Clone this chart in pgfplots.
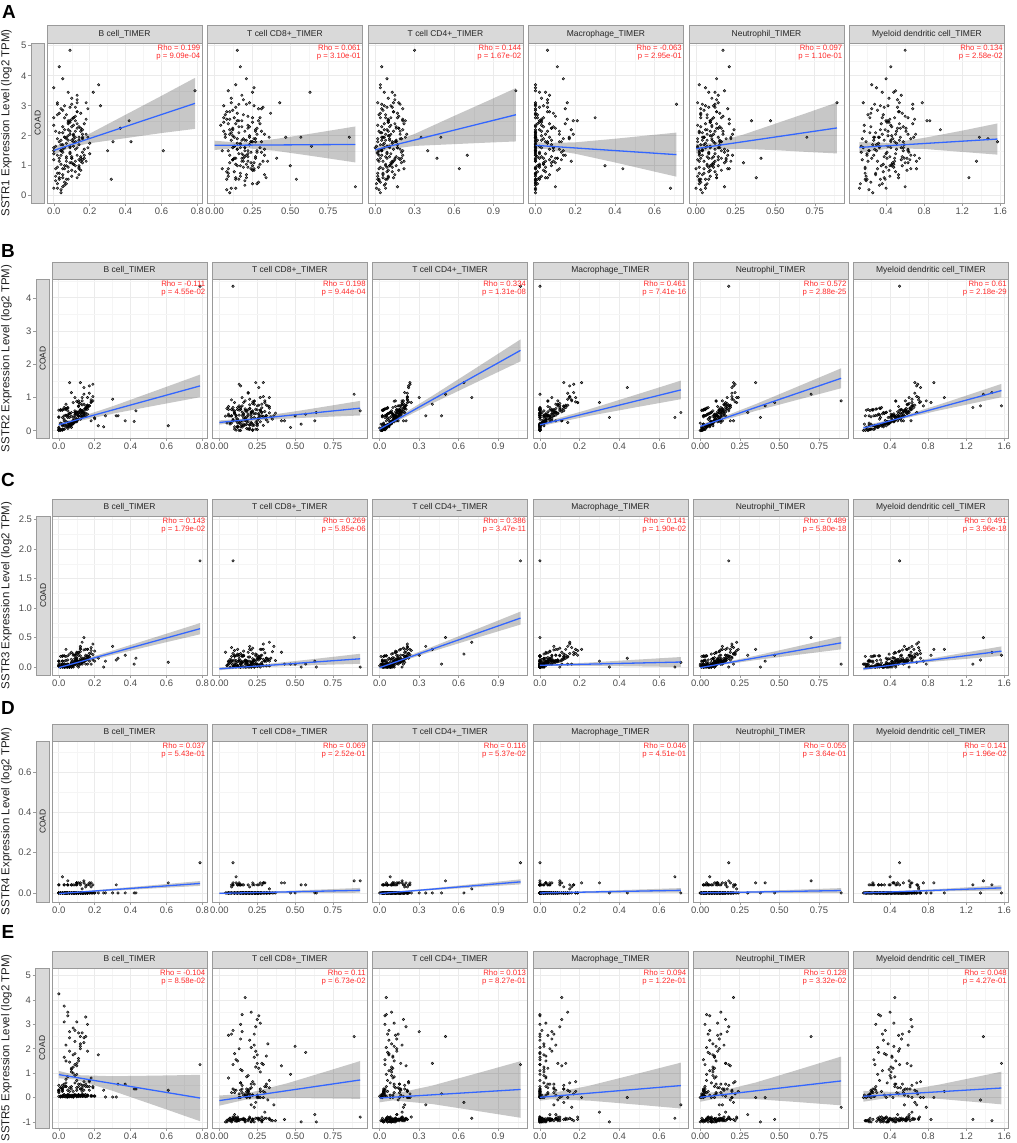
\documentclass[border=0pt]{standalone}
\usepackage{pgfplots}
\pgfplotsset{compat=1.18}
\usepackage{pgfplotstable}
\usepackage{fontspec}
\setmainfont{Liberation Sans}
\definecolor{bordc}{HTML}{9A9A9A}
\definecolor{stripc}{HTML}{D9D9D9}
\definecolor{tickc}{HTML}{4D4D4D}
\definecolor{regc}{HTML}{3366FF}
\definecolor{majg}{HTML}{EBEBEB}
\definecolor{ming}{HTML}{F5F5F5}
\definecolor{rhoc}{HTML}{FF2A2A}

\pgfplotstableread{
b c8 c4 mac neu dc s1 s2 s3 s4 s5 s5b
0.787 0.09 1.07 0.00 0.18 0.50 3.50 4.35 1.80 0.15 1.35 1.35
0.14 0.89 0.50 0.00 0.70 1.38 1.95 1.10 0.50 0.06 2.50 2.45
0.61 0.22 0.05 0.00 0.04 0.22 1.50 0.15 0.08 0.05 -0.90 0.30
0.42 0.18 0.10 0.03 0.09 0.40 2.50 0.28 0.05 0.00 0.10 0.35
0.43 0.27 0.16 0.12 0.15 0.58 1.80 0.60 0.15 0.00 0.35 0.35
0.37 0.12 0.18 0.08 0.13 0.52 2.25 0.30 0.20 0.00 -0.85 0.55
0.33 0.31 0.15 0.05 0.16 0.45 1.80 0.45 0.15 0.00 0.55 0.55
0.32 0.08 0.02 0.00 0.03 0.18 0.55 0.45 0.12 0.04 -0.95 0.02
0.30 0.20 0.21 0.14 0.20 0.63 1.50 0.95 0.35 0.00 0.00 0.02
0.25 0.14 0.04 0.00 0.02 0.25 3.70 0.12 0.00 0.00 0.30 0.30
0.22 0.25 0.07 0.02 0.08 0.36 3.45 0.15 0.15 0.00 1.75 1.75
0.26 0.06 0.12 0.04 0.11 0.42 3.00 0.45 0.10 0.00 -0.90 0.02
0.05 0.93 0.17 0.10 0.18 0.60 0.30 0.60 0.00 0.06 -0.80 0.05
0.11 0.64 0.09 0.00 0.07 0.33 1.65 0.55 0.00 0.00 -1.00 0.08
0.08 0.63 0.13 0.05 0.12 0.48 3.45 0.30 0.10 0.00 -0.70 0.10
0.16 0.57 0.06 0.00 0.05 0.28 1.95 0.50 0.05 0.04 1.85 1.90
0.03 0.54 0.03 0.00 0.02 0.20 0.55 0.20 0.00 0.04 -1.00 0.04
0.12 0.50 0.11 0.02 0.10 0.44 1.00 0.45 0.05 0.00 2.10 2.20
0.07 0.47 0.05 0.00 0.04 0.27 1.95 0.10 0.05 0.00 0.95 1.05
0.18 0.43 0.14 0.06 0.14 0.54 3.10 0.30 0.05 0.05 -0.90 0.06
0.10 0.41 0.20 0.11 0.19 0.62 1.25 0.30 0.25 0.05 1.30 1.40
0.09 0.15 0.30 0.06 0.17 0.60 4.85 1.00 0.20 0.00 2.70 2.75
0.13 0.33 0.70 0.15 0.23 0.70 1.35 1.00 0.42 0.02 -0.85 0.10
0.06 0.24 0.64 0.12 0.21 0.66 0.90 1.45 0.22 0.00 -0.20 0.40
0.15 0.19 0.47 0.04 0.10 0.49 1.25 0.45 0.05 0.00 0.15 0.45
0.04 0.28 0.40 0.09 0.16 0.58 1.50 0.80 0.30 0.00 1.40 1.50
0.12 0.36 0.35 0.07 0.14 0.55 1.95 0.45 0.35 0.00 -0.30 0.35
0.10 0.21 0.19 0.71 0.12 0.68 3.05 0.55 0.08 0.00 -0.30 0.40
0.02 0.11 0.08 0.68 0.06 0.40 0.25 0.40 0.00 0.08 -0.85 0.05
0.14 0.26 0.22 0.44 0.20 0.72 0.90 1.30 0.15 0.00 0.00 0.30
0.06 0.17 0.11 0.35 0.09 0.46 1.00 0.40 0.00 0.00 -1.00 0.03
0.11 0.30 0.17 0.30 0.16 0.63 2.60 0.85 0.10 0.05 -0.60 0.12
0.13 0.23 0.18 0.16 0.89 0.78 3.10 0.90 0.05 0.00 -0.40 0.25
0.08 0.16 0.21 0.19 0.47 0.83 2.50 0.85 0.20 0.00 -0.90 0.06
0.17 0.13 0.15 0.10 0.41 0.75 1.25 0.75 0.10 0.05 0.00 0.30
0.05 0.21 0.06 0.02 0.38 0.38 0.60 0.40 0.00 0.00 -1.00 0.02
0.12 0.29 0.23 0.21 0.35 0.86 2.50 1.45 0.30 0.05 0.00 0.35
0.09 0.10 0.13 0.08 0.30 0.60 1.10 0.55 0.20 0.00 -0.70 0.08
0.11 0.25 0.16 0.13 0.16 1.57 1.80 0.75 0.20 0.00 1.40 1.50
0.07 0.19 0.19 0.17 0.22 1.47 1.90 1.15 0.25 0.04 -0.95 0.05
0.15 0.32 0.14 0.09 0.19 1.35 1.15 0.75 0.12 0.00 -0.10 2.50
0.03 0.14 0.10 0.05 0.13 1.27 0.60 0.70 0.05 0.04 -0.90 0.04
0.16 0.27 0.21 0.18 0.24 0.97 2.20 1.00 0.30 0.00 0.25 0.45
0.00 0.12 0.02 0.00 0.01 0.15 1.20 0.10 0.02 0.00 -0.95 0.05
0.05 0.18 0.05 0.00 0.03 0.24 2.30 0.07 0.00 0.00 0.05 0.30
0.09 0.22 0.09 0.02 0.08 0.40 1.40 0.60 0.14 0.04 -0.90 0.08
0.13 0.08 0.14 0.07 0.13 0.53 2.80 0.45 0.10 0.00 2.60 2.65
0.02 0.25 0.01 0.00 0.02 0.13 0.40 0.20 0.05 0.00 0.10 0.35
0.07 0.15 0.07 0.00 0.06 0.32 1.75 0.15 0.00 0.00 1.10 1.20
0.11 0.30 0.12 0.04 0.10 0.46 1.05 0.90 0.24 0.00 -0.85 0.10
0.15 0.20 0.19 0.12 0.17 0.61 2.15 0.67 0.17 0.03 0.35 0.55
0.01 0.05 0.03 0.00 0.00 0.18 0.90 0.23 0.02 0.00 -1.00 0.02
0.06 0.13 0.08 0.01 0.07 0.36 2.60 0.23 0.00 0.00 0.00 0.25
0.10 0.27 0.11 0.03 0.11 0.44 1.30 0.27 0.15 0.05 3.05 3.10
0.19 0.17 0.17 0.09 0.14 0.56 1.60 0.90 0.12 0.00 -0.90 0.06
0.04 0.10 0.04 0.00 0.04 0.26 0.10 0.12 0.05 0.00 0.20 0.45
0.08 0.23 0.10 0.00 0.09 0.42 2.00 0.40 0.00 0.00 1.65 1.75
0.12 0.35 0.13 0.05 0.12 0.49 1.15 0.35 0.26 0.00 -0.95 0.04
0.17 0.14 0.22 0.15 0.21 0.68 2.40 1.35 0.23 0.04 0.60 0.70
0.00 0.20 0.00 0.00 0.01 0.16 1.60 0.08 0.02 0.00 0.05 0.30
0.03 0.09 0.06 0.00 0.05 0.29 0.75 0.35 0.00 0.00 -0.80 0.12
0.09 0.32 0.09 0.02 0.08 0.38 2.95 0.27 0.14 0.00 2.20 2.30
0.14 0.11 0.16 0.08 0.15 0.54 1.85 0.47 0.11 0.00 0.30 0.50
0.05 0.28 0.02 0.00 0.02 0.14 1.45 0.45 0.05 0.00 -0.95 0.03
0.07 0.16 0.08 0.01 0.06 0.34 0.55 0.20 0.00 0.04 0.10 0.35
0.11 0.04 0.12 0.03 0.10 0.45 2.35 0.44 0.25 0.00 -1.00 0.07
0.16 0.24 0.20 0.10 0.18 0.63 1.10 0.65 0.19 0.00 2.90 3.00
0.02 0.19 0.03 0.00 0.03 0.21 2.70 0.63 0.02 0.00 0.25 0.40
0.06 0.07 0.07 0.00 0.05 0.33 1.95 0.20 0.00 0.00 -0.85 0.10
0.10 0.26 0.10 0.04 0.09 0.43 0.85 0.48 0.16 0.00 1.20 1.30
0.13 0.19 0.15 0.06 0.13 0.52 3.20 0.50 0.10 0.00 -0.90 0.05
0.00 0.14 0.01 0.00 0.00 0.12 0.25 0.01 0.05 0.00 0.00 0.20
0.04 0.21 0.05 0.00 0.04 0.27 1.35 0.47 0.00 0.00 2.05 2.15
0.08 0.12 0.09 0.02 0.07 0.39 2.20 0.24 0.22 0.04 -0.95 0.09
0.12 0.33 0.14 0.07 0.12 0.51 1.55 0.54 0.10 0.00 0.40 0.55
0.18 0.10 0.24 0.19 0.23 0.71 2.05 0.85 0.28 0.00 -0.80 0.08
0.01 0.17 0.02 0.00 0.01 0.19 0.65 0.61 0.00 0.00 0.15 0.40
0.05 0.23 0.06 0.00 0.05 0.30 1.70 0.17 0.12 0.00 -1.00 0.03
0.09 0.06 0.10 0.03 0.09 0.41 2.45 0.50 0.05 0.00 0.80 0.90
0.14 0.29 0.13 0.05 0.11 0.48 0.95 0.43 0.13 0.05 -0.90 0.11
0.10 0.18 0.18 0.11 0.16 0.59 1.25 0.57 0.11 0.00 0.05 0.30
0.03 0.11 0.04 0.00 0.02 0.23 2.10 0.45 0.19 0.00 1.55 1.65
0.07 0.25 0.08 0.01 0.07 0.35 1.00 0.22 0.04 0.00 -0.85 0.06
0.11 0.15 0.11 0.04 0.10 0.47 1.90 0.46 0.08 0.00 0.20 0.45
0.15 0.37 0.17 0.09 0.15 0.57 2.75 0.53 0.11 0.00 -0.95 0.04
0.00 0.09 0.03 0.00 0.02 0.22 1.50 0.62 0.10 0.04 0.35 0.50
0.06 0.20 0.07 0.00 0.06 0.33 0.35 0.18 0.02 0.00 2.35 2.45
0.09 0.13 0.11 0.02 0.09 0.42 1.65 0.47 0.10 0.00 -0.90 0.10
0.13 0.22 0.16 0.08 0.14 0.55 2.25 0.57 0.08 0.00 0.10 0.35
0.20 0.16 0.12 0.05 0.12 0.50 1.40 0.39 0.27 0.00 -0.85 0.07
0.04 0.31 0.05 0.00 0.03 0.25 2.90 0.46 0.02 0.00 0.45 0.60
0.08 0.08 0.09 0.01 0.08 0.37 0.80 0.23 0.06 0.00 -1.00 0.02
0.12 0.24 0.13 0.06 0.11 0.49 1.80 0.52 0.06 0.00 1.90 2.00
0.16 0.12 0.19 0.13 0.19 0.65 1.20 0.70 0.30 0.00 -0.90 0.09
0.02 0.27 0.02 0.00 0.01 0.15 1.90 0.62 0.00 0.00 0.00 0.25
0.07 0.18 0.06 0.00 0.05 0.31 1.15 0.19 0.07 0.00 0.25 0.45
0.10 0.10 0.10 0.03 0.10 0.44 2.55 0.51 0.03 0.00 -0.95 0.05
0.14 0.21 0.15 0.07 0.13 0.53 0.70 0.53 0.29 0.00 0.55 0.65
0.05 0.15 0.05 0.00 0.04 0.28 1.55 0.11 0.02 0.04 3.40 3.50
0.09 0.28 0.08 0.00 0.07 0.36 2.05 0.56 0.05 0.00 -0.80 0.12
0.03 0.17 0.05 0.11 0.21 0.45 4.30 0.30 0.05 0.00 4.10 3.75
0.05 0.21 0.09 0.14 0.13 0.40 3.90 0.25 0.05 0.00 3.50 3.35
0.00 0.26 0.04 0.00 0.06 0.30 3.60 0.40 0.02 0.00 3.35 4.25
0.01 0.06 0.03 0.00 0.02 0.17 2.15 0.64 0.05 0.00 -0.92 0.06
0.04 0.14 0.08 0.02 0.07 0.37 1.05 0.28 0.00 0.00 0.60 0.75
0.12 0.22 0.18 0.10 0.17 0.60 2.65 0.82 0.32 0.00 -0.88 0.09
0.06 0.29 0.04 0.00 0.03 0.24 0.45 0.16 0.02 0.00 1.35 1.45
0.10 0.11 0.10 0.03 0.10 0.43 3.25 0.30 0.08 0.05 -0.97 0.03
0.17 0.19 0.21 0.14 0.20 0.66 1.35 1.13 0.17 0.00 0.30 0.45
0.03 0.24 0.02 0.00 0.01 0.19 1.80 0.05 0.10 0.00 -0.85 0.11
0.08 0.09 0.07 0.01 0.06 0.35 2.40 0.31 0.02 0.00 2.75 2.85
0.13 0.34 0.14 0.06 0.13 0.53 0.60 0.42 0.15 0.00 -0.93 0.05
0.19 0.13 0.23 0.17 0.22 0.69 1.95 1.40 0.21 0.04 0.15 0.40
0.02 0.16 0.05 0.00 0.04 0.28 3.05 0.15 0.19 0.00 -0.90 0.08
0.07 0.27 0.09 0.02 0.08 0.41 1.25 0.44 0.05 0.00 1.05 1.15
0.11 0.07 0.12 0.05 0.11 0.50 2.05 0.44 0.09 0.00 -0.95 0.04
0.15 0.25 0.18 0.11 0.16 0.62 0.85 0.63 0.13 0.00 3.20 3.30
0.00 0.18 0.02 0.00 0.02 0.20 1.40 0.42 0.10 0.00 0.00 0.25
0.05 0.12 0.06 0.00 0.05 0.31 2.85 0.14 0.02 0.04 -0.80 0.13
0.09 0.30 0.11 0.03 0.09 0.45 1.60 0.41 0.10 0.00 0.45 0.60
0.14 0.16 0.16 0.09 0.15 0.58 2.30 0.52 0.09 0.00 -0.90 0.07
0.04 0.08 0.03 0.00 0.03 0.22 0.20 0.64 0.18 0.00 0.20 0.45
0.08 0.21 0.08 0.01 0.07 0.38 1.85 0.23 0.04 0.00 -0.98 0.02
0.12 0.14 0.13 0.06 0.12 0.52 2.95 0.64 0.11 0.00 2.40 2.50
0.16 0.31 0.20 0.13 0.18 0.64 1.45 0.77 0.15 0.00 -0.85 0.10
0.02 0.22 0.04 0.00 0.02 0.18 0.95 0.03 0.10 0.00 0.10 0.35
0.06 0.10 0.07 0.00 0.06 0.34 2.20 0.53 0.02 0.00 1.80 1.90
0.10 0.26 0.12 0.04 0.11 0.47 1.10 0.36 0.12 0.04 -0.92 0.06
0.13 0.18 0.15 0.07 0.14 0.56 3.35 0.61 0.07 0.00 0.35 0.50
0.01 0.13 0.01 0.00 0.01 0.14 1.65 0.01 0.18 0.00 -0.95 0.04
0.05 0.33 0.06 0.00 0.04 0.29 0.70 0.68 0.02 0.00 0.70 0.85
0.09 0.15 0.10 0.02 0.09 0.42 2.50 0.29 0.07 0.00 -0.88 0.09
0.14 0.23 0.17 0.08 0.15 0.59 1.70 0.80 0.11 0.00 2.15 2.25
0.18 0.08 0.21 0.16 0.21 0.70 2.55 0.93 0.33 0.03 -0.90 0.06
0.03 0.19 0.03 0.00 0.02 0.21 1.15 0.05 0.00 0.00 0.25 0.45
0.07 0.28 0.08 0.01 0.07 0.36 0.40 0.55 0.08 0.00 -1.00 0.03
0.11 0.12 0.11 0.03 0.10 0.46 2.00 0.35 0.03 0.00 1.50 1.60
0.15 0.20 0.16 0.08 0.14 0.57 1.30 0.67 0.30 0.00 -0.85 0.12
0.00 0.25 0.04 0.00 0.03 0.23 2.60 0.04 0.01 0.04 0.05 0.30
0.04 0.05 0.05 0.00 0.04 0.30 1.50 0.67 0.03 0.00 -0.93 0.05
0.08 0.19 0.09 0.02 0.08 0.40 0.95 0.27 0.02 0.00 0.90 1.00
0.12 0.27 0.14 0.06 0.12 0.51 2.15 0.63 0.19 0.00 -0.90 0.08
0.17 0.15 0.19 0.12 0.18 0.63 1.55 0.75 0.18 0.00 0.50 0.65
0.02 0.11 0.02 0.00 0.01 0.16 3.10 0.02 0.05 0.00 -0.96 0.03
0.06 0.23 0.06 0.00 0.05 0.32 1.95 0.51 0.00 0.00 2.60 2.70
0.10 0.09 0.10 0.03 0.09 0.44 0.65 0.30 0.23 0.05 -0.87 0.10
0.13 0.30 0.15 0.07 0.13 0.54 2.40 0.58 0.11 0.00 0.20 0.40
0.20 0.17 0.13 0.06 0.12 0.51 1.75 0.36 0.10 0.00 -0.92 0.05
0.03 0.14 0.04 0.00 0.03 0.25 1.25 0.65 0.00 0.00 3.00 3.10
0.07 0.07 0.08 0.01 0.07 0.37 2.70 0.24 0.13 0.00 -0.85 0.09
0.11 0.21 0.12 0.04 0.11 0.48 1.05 0.57 0.07 0.00 0.40 0.55
0.15 0.28 0.18 0.10 0.16 0.61 2.25 0.69 0.20 0.04 -0.95 0.04
0.01 0.20 0.03 0.00 0.02 0.19 0.50 0.04 0.00 0.00 0.15 0.40
0.05 0.16 0.05 0.00 0.04 0.29 2.10 0.48 0.19 0.00 -0.90 0.07
0.09 0.24 0.09 0.02 0.08 0.41 1.45 0.26 0.05 0.00 1.25 1.35
0.13 0.10 0.14 0.06 0.13 0.54 2.80 0.60 0.12 0.00 -0.88 0.11
0.18 0.22 0.22 0.18 0.22 0.72 1.15 0.87 0.23 0.00 0.65 0.80
0.04 0.17 0.04 0.00 0.03 0.26 1.70 0.66 0.11 0.00 -0.97 0.02
0.08 0.25 0.10 0.02 0.09 0.43 2.45 0.30 0.05 0.00 0.00 0.25
0.12 0.13 0.13 0.05 0.12 0.50 0.80 0.62 0.14 0.04 2.00 2.10
0.16 0.33 0.19 0.12 0.17 0.63 2.05 0.73 0.13 0.00 -0.90 0.06
0.02 0.10 0.03 0.00 0.02 0.20 1.35 0.05 0.18 0.00 0.30 0.50
0.06 0.26 0.07 0.00 0.06 0.34 3.00 0.52 0.03 0.00 -0.85 0.08
0.10 0.18 0.11 0.03 0.10 0.45 1.85 0.33 0.08 0.00 0.85 0.95
0.14 0.12 0.15 0.07 0.14 0.56 1.20 0.64 0.09 0.00 -0.95 0.05
0.00 0.22 0.02 0.00 0.01 0.17 2.35 0.01 0.10 0.00 0.10 0.30
0.05 0.09 0.06 0.00 0.05 0.31 0.90 0.70 0.02 0.04 -0.90 0.09
0.09 0.31 0.10 0.03 0.09 0.42 2.15 0.33 0.10 0.00 1.70 1.80
0.13 0.20 0.17 0.09 0.15 0.58 1.60 0.78 0.10 0.00 -0.80 0.12
0.03 0.15 0.04 0.00 0.03 0.24 2.75 0.15 0.19 0.00 0.35 0.55
0.07 0.22 0.08 0.01 0.07 0.38 1.30 0.20 0.04 0.00 -0.92 0.04
0.11 0.06 0.12 0.04 0.11 0.49 2.60 0.73 0.09 0.00 2.55 2.65
0.16 0.26 0.20 0.14 0.19 0.66 1.90 0.77 0.18 0.00 -0.88 0.07
0.02 0.17 0.02 0.00 0.02 0.18 0.75 0.18 0.10 0.00 0.05 0.30
0.06 0.12 0.07 0.00 0.06 0.33 1.60 0.12 0.02 0.00 -0.95 0.06
0.10 0.23 0.11 0.04 0.10 0.46 2.30 0.89 0.11 0.04 0.55 0.70
0.14 0.15 0.16 0.08 0.14 0.57 1.00 0.56 0.09 0.00 -0.90 0.10
0.19 0.29 0.21 0.15 0.20 0.68 2.90 1.03 0.39 0.00 0.25 0.45
0.04 0.20 0.05 0.00 0.04 0.27 1.85 0.17 0.02 0.00 -0.85 0.08
0.08 0.14 0.09 0.02 0.08 0.39 0.55 0.21 0.06 0.00 1.15 1.25
}\data

\pgfplotsset{
  panel/.style={scale only axis, anchor=north west, height=\rowh, width=\pw,
    axis line style={bordc,line width=0.7bp},
    grid=both, major grid style={majg,line width=0.8bp}, minor grid style={ming,line width=0.45bp},
    tick align=outside, tick pos=left, major tick length=2.8bp, minor tick length=0pt,
    every tick/.style={bordc,line width=0.6bp},
    ytick style={draw=none}, yticklabels={,,},
    xticklabel style={font=\fontsize{9.5}{9.5}\selectfont, text=tickc, inner sep=1.5bp},
    clip mode=individual, scaled ticks=false,
    /pgf/number format/assume math mode=true},
  colB/.style={xmin=-0.038,xmax=0.826,xtick={0,0.2,0.4,0.6,0.8},xticklabels={0.0,0.2,0.4,0.6,0.8},minor xtick={0.1,0.3,0.5,0.7}},
  colC8/.style={xmin=-0.047,xmax=0.977,xtick={0,0.25,0.5,0.75},xticklabels={0.00,0.25,0.50,0.75},minor xtick={0.125,0.375,0.625,0.875}},
  colC4/.style={xmin=-0.054,xmax=1.124,xtick={0,0.3,0.6,0.9},xticklabels={0.0,0.3,0.6,0.9},minor xtick={0.15,0.45,0.75,1.05}},
  colMac/.style={xmin=-0.0355,xmax=0.7455,xtick={0,0.2,0.4,0.6},xticklabels={0.0,0.2,0.4,0.6},minor xtick={0.1,0.3,0.5,0.7}},
  colNeu/.style={xmin=-0.0445,xmax=0.9345,xtick={0,0.25,0.5,0.75},xticklabels={0.00,0.25,0.50,0.75},minor xtick={0.125,0.375,0.625,0.875}},
  colDC/.style={xmin=0.016,xmax=1.644,xtick={0.4,0.8,1.2,1.6},xticklabels={0.4,0.8,1.2,1.6},minor xtick={0.2,0.6,1.0,1.4}},
  rowA/.style={ymin=-0.2425,ymax=5.0925,ytick={0,1,2,3,4,5},minor ytick={0.5,1.5,2.5,3.5,4.5}},
  rowB/.style={ymin=-0.2175,ymax=4.5675,ytick={0,1,2,3,4},minor ytick={0.5,1.5,2.5,3.5,4.5}},
  rowC/.style={ymin=-0.135,ymax=2.56,ytick={0,0.5,1,1.5,2,2.5},minor ytick={0.25,0.75,1.25,1.75,2.25}},
  rowD/.style={ymin=-0.045,ymax=0.754,ytick={0,0.2,0.4,0.6},minor ytick={0.1,0.3,0.5,0.7}},
  rowE/.style={ymin=-1.25,ymax=5.31,ytick={-1,0,1,2,3,4,5},minor ytick={-0.5,0.5,1.5,2.5,3.5,4.5}},
}

% #1 left, #2 column style, #3 x column, #4 y column, #5 band polygon, #6 line, #7 title, #8 rho, #9 p
\newcommand{\panel}[9]{%
\begin{axis}[panel, currow, #2, at={(#1bp,\rowtop)}]
\addplot[only marks, mark=*, mark size=1.3bp, mark options={draw=none, fill=black, fill opacity=0.5}] table[x=#3,y=#4]{\data};
\addplot[draw=none, fill=black, fill opacity=0.22] coordinates {#5};
\addplot[regc, line width=1.3bp] coordinates {#6};
\draw[bordc, fill=stripc, line width=0.7bp] (rel axis cs:0,1) rectangle ([yshift=\striph]rel axis cs:1,1);
\node[font=\fontsize{8.5}{8.5}\selectfont, text=black!85] at ([yshift=0.5*\striph]rel axis cs:0.5,1) {#7};
\node[anchor=north east, align=right, font=\fontsize{7.8}{8}\selectfont, text=rhoc, inner sep=0pt] at ([xshift=-1.5bp,yshift=-1.8bp]rel axis cs:1,1) {Rho = #8\\p = #9};
\end{axis}}

% COAD strip with the y ticks of the row
\newcommand{\coad}[2]{%
\begin{axis}[scale only axis, anchor=north west, at={(#1bp,\rowtop)}, width=13.5bp, height=\rowh, currow,
  xmin=0, xmax=1, xtick=\empty, tick pos=left, tick align=outside, major tick length=2.8bp, minor tick length=0pt,
  every tick/.style={bordc,line width=0.6bp}, axis line style={bordc,line width=0.7bp},
  axis background/.style={fill=stripc}, scaled ticks=false,
  yticklabel style={font=\fontsize{9.5}{9.5}\selectfont, text=tickc, inner sep=1.5bp},
  /pgf/number format/assume math mode=true, #2]
\node[rotate=90, font=\fontsize{8.5}{8.5}\selectfont, text=black!85] at (rel axis cs:0.5,0.5) {COAD};
\end{axis}}

\def\pw{155bp}

\begin{document}
\begin{tikzpicture}
\path[use as bounding box] (0,0) rectangle (1017bp,-1143bp);

% ---------------- Row A : SSTR1
\def\rowtop{-43bp}\def\rowh{160bp}\def\striph{18bp}
\pgfplotsset{currow/.style={rowA}}
\node[font=\fontsize{19}{19}\selectfont\bfseries] at (9bp,-12bp) {A};
\node[rotate=90, font=\fontsize{11.5}{11.5}\selectfont, text=black!88] at (6.5bp,-123bp) {SSTR1 Expression Level (log2 TPM)};
\coad{31}{}
\panel{47}{colB}{b}{s1}{(0,1.65) (0.1,1.80) (0.2,2.07) (0.4,2.70) (0.6,3.33) (0.787,3.93) (0.787,2.23) (0.6,2.09) (0.4,1.92) (0.2,1.75) (0.1,1.62) (0,1.37)}{(0,1.51) (0.787,3.08)}{B cell\_TIMER}{0.199}{9.09e-04}
\panel{207.5}{colC8}{c8}{s1}{(0,1.835) (0.17,1.765) (0.4,1.89) (0.65,2.08) (0.93,2.31) (0.93,1.11) (0.65,1.32) (0.4,1.50) (0.17,1.605) (0,1.525)}{(0,1.68) (0.93,1.71)}{T cell CD8+\_TIMER}{0.061}{3.10e-01}
\panel{368}{colC4}{c4}{s1}{(0,1.66) (0.1,1.73) (0.3,2.06) (0.6,2.66) (0.85,3.15) (1.07,3.59) (1.07,1.81) (0.85,1.77) (0.6,1.72) (0.3,1.66) (0.1,1.55) (0,1.40)}{(0,1.53) (1.07,2.70)}{T cell CD4+\_TIMER}{0.144}{1.67e-02}
\panel{528.5}{colMac}{mac}{s1}{(0,1.80) (0.05,1.76) (0.2,1.78) (0.4,1.90) (0.55,2.00) (0.71,2.105) (0.71,0.635) (0.55,0.88) (0.4,1.11) (0.2,1.40) (0.05,1.56) (0,1.56)}{(0,1.68) (0.71,1.37)}{Macrophage\_TIMER}{-0.063}{2.95e-01}
\panel{689}{colNeu}{neu}{s1}{(0,1.72) (0.1,1.75) (0.3,2.04) (0.5,2.40) (0.7,2.76) (0.89,3.11) (0.89,1.41) (0.7,1.46) (0.5,1.52) (0.3,1.56) (0.1,1.55) (0,1.42)}{(0,1.57) (0.89,2.26)}{Neutrophil\_TIMER}{0.097}{1.10e-01}
\panel{849.5}{colDC}{dc}{s1}{(0.12,1.79) (0.45,1.76) (0.8,1.93) (1.2,2.17) (1.57,2.41) (1.57,1.37) (1.2,1.46) (0.8,1.56) (0.45,1.58) (0.12,1.43)}{(0.12,1.61) (1.57,1.89)}{Myeloid dendritic cell\_TIMER}{0.134}{2.58e-02}

% ---------------- Row B : SSTR2
\def\rowtop{-279bp}\def\rowh{159bp}\def\striph{17bp}
\pgfplotsset{currow/.style={rowB}}
\node[font=\fontsize{19}{19}\selectfont\bfseries] at (8bp,-251bp) {B};
\node[rotate=90, font=\fontsize{11.5}{11.5}\selectfont, text=black!88] at (6.5bp,-358.5bp) {SSTR2 Expression Level (log2 TPM)};
\coad{36}{}
\panel{52}{colB}{b}{s2}{(0,0.246) (0.09,0.364) (0.3,0.738) (0.55,1.225) (0.787,1.69) (0.787,1.01) (0.55,0.771) (0.3,0.514) (0.09,0.264) (0,0.114)}{(0,0.18) (0.787,1.35)}{B cell\_TIMER}{-0.111}{4.55e-02}
\panel{212.3}{colC8}{c8}{s2}{(0,0.313) (0.17,0.369) (0.5,0.584) (0.72,0.744) (0.93,0.90) (0.93,0.46) (0.72,0.422) (0.5,0.378) (0.17,0.289) (0,0.187)}{(0,0.25) (0.93,0.68)}{T cell CD8+\_TIMER}{0.198}{9.44e-04}
\panel{372.6}{colC4}{c4}{s2}{(0,0.11) (0.1,0.32) (0.4,1.05) (0.75,1.935) (1.07,2.75) (1.07,2.09) (0.75,1.487) (0.4,0.824) (0.1,0.22) (0,-0.01)}{(0,0.05) (1.07,2.42)}{T cell CD4+\_TIMER}{0.334}{1.31e-08}
\panel{532.9}{colMac}{mac}{s2}{(0,0.245) (0.05,0.309) (0.25,0.65) (0.5,1.115) (0.71,1.51) (0.71,0.95) (0.5,0.725) (0.25,0.45) (0.05,0.199) (0,0.115)}{(0,0.18) (0.71,1.23)}{Macrophage\_TIMER}{0.461}{7.41e-16}
\panel{693.2}{colNeu}{neu}{s2}{(0,0.195) (0.1,0.338) (0.35,0.802) (0.6,1.30) (0.89,1.88) (0.89,1.28) (0.6,0.914) (0.35,0.598) (0.1,0.248) (0,0.065)}{(0,0.13) (0.89,1.58)}{Neutrophil\_TIMER}{0.572}{2.88e-25}
\panel{853.5}{colDC}{dc}{s2}{(0.12,0.148) (0.45,0.372) (0.9,0.773) (1.25,1.105) (1.57,1.41) (1.57,1.01) (1.25,0.815) (0.9,0.603) (0.45,0.302) (0.12,0.012)}{(0.12,0.08) (1.57,1.21)}{Myeloid dendritic cell\_TIMER}{0.61}{2.18e-29}

% ---------------- Row C : SSTR3
\def\rowtop{-516bp}\def\rowh{159bp}\def\striph{17bp}
\pgfplotsset{currow/.style={rowC}}
\node[font=\fontsize{19}{19}\selectfont\bfseries] at (8bp,-480bp) {C};
\node[rotate=90, font=\fontsize{11.5}{11.5}\selectfont, text=black!88] at (6.5bp,-595.5bp) {SSTR3 Expression Level (log2 TPM)};
\coad{36.5}{yticklabel style={/pgf/number format/fixed, /pgf/number format/fixed zerofill, /pgf/number format/precision=1}}
\panel{52}{colB}{b}{s3}{(0,0.018) (0.09,0.091) (0.3,0.279) (0.55,0.517) (0.787,0.745) (0.787,0.555) (0.55,0.386) (0.3,0.205) (0.09,0.041) (0,-0.038)}{(0,-0.01) (0.787,0.65)}{B cell\_TIMER}{0.143}{1.79e-02}
\panel{212.3}{colC8}{c8}{s3}{(0,-0.006) (0.17,0.016) (0.5,0.101) (0.72,0.164) (0.93,0.225) (0.93,0.055) (0.72,0.04) (0.5,0.022) (0.17,-0.014) (0,-0.054)}{(0,-0.03) (0.93,0.14)}{T cell CD8+\_TIMER}{0.269}{5.85e-06}
\panel{372.6}{colC4}{c4}{s3}{(0,0.013) (0.1,0.0885) (0.4,0.344) (0.75,0.654) (1.07,0.94) (1.07,0.72) (0.75,0.504) (0.4,0.265) (0.1,0.0485) (0,-0.033)}{(0,-0.01) (1.07,0.83)}{T cell CD4+\_TIMER}{0.386}{3.47e-11}
\panel{532.9}{colMac}{mac}{s3}{(0,0.045) (0.05,0.046) (0.25,0.077) (0.5,0.128) (0.71,0.17) (0.71,0.0) (0.5,0.01) (0.25,0.021) (0.05,0.022) (0,0.015)}{(0,0.03) (0.71,0.085)}{Macrophage\_TIMER}{0.141}{1.90e-02}
\panel{693.2}{colNeu}{neu}{s3}{(0,0.0104) (0.1,0.052) (0.35,0.192) (0.6,0.343) (0.89,0.52) (0.89,0.30) (0.6,0.203) (0.35,0.118) (0.1,0.022) (0,-0.0304)}{(0,-0.01) (0.89,0.41)}{Neutrophil\_TIMER}{0.489}{5.80e-18}
\panel{853.5}{colDC}{dc}{s3}{(0.12,-0.004) (0.45,0.05) (0.9,0.165) (1.25,0.262) (1.57,0.35) (1.57,0.19) (1.25,0.146) (0.9,0.097) (0.45,0.026) (0.12,-0.056)}{(0.12,-0.03) (1.57,0.27)}{Myeloid dendritic cell\_TIMER}{0.491}{3.96e-18}

% ---------------- Row D : SSTR4
\def\rowtop{-741bp}\def\rowh{161bp}\def\striph{17bp}
\pgfplotsset{currow/.style={rowD}}
\node[font=\fontsize{19}{19}\selectfont\bfseries] at (8bp,-708bp) {D};
\node[rotate=90, font=\fontsize{11.5}{11.5}\selectfont, text=black!88] at (6.5bp,-821.5bp) {SSTR4 Expression Level (log2 TPM)};
\coad{36}{yticklabel style={/pgf/number format/fixed, /pgf/number format/fixed zerofill, /pgf/number format/precision=1}}
\panel{52}{colB}{b}{s4}{(0,0.0025) (0.09,0.0047) (0.3,0.0213) (0.55,0.0404) (0.787,0.059) (0.787,0.035) (0.55,0.0236) (0.3,0.0107) (0.09,-0.0033) (0,-0.0085)}{(0,-0.003) (0.787,0.047)}{B cell\_TIMER}{0.037}{5.43e-01}
\panel{212.3}{colC8}{c8}{s4}{(0,0.002) (0.17,0.0037) (0.5,0.0119) (0.72,0.0185) (0.93,0.025) (0.93,0.001) (0.72,0.0007) (0.5,0.0001) (0.17,-0.0023) (0,-0.006)}{(0,-0.002) (0.93,0.013)}{T cell CD8+\_TIMER}{0.069}{2.52e-01}
\panel{372.6}{colC4}{c4}{s4}{(0,0.0002) (0.1,0.0054) (0.4,0.0235) (0.75,0.0464) (1.07,0.0675) (1.07,0.0425) (0.75,0.029) (0.4,0.0139) (0.1,-0.0006) (0,-0.0062)}{(0,-0.003) (1.07,0.055)}{T cell CD4+\_TIMER}{0.116}{5.37e-02}
\panel{532.9}{colMac}{mac}{s4}{(0,0.0032) (0.05,0.0039) (0.25,0.009) (0.5,0.017) (0.71,0.024) (0.71,0.002) (0.5,0.0014) (0.25,0.0002) (0.05,-0.0021) (0,-0.0032)}{(0,0) (0.71,0.013)}{Macrophage\_TIMER}{0.046}{4.51e-01}
\panel{693.2}{colNeu}{neu}{s4}{(0,0.0034) (0.1,0.0044) (0.35,0.0095) (0.6,0.016) (0.89,0.024) (0.89,0.0) (0.6,0.0002) (0.35,-0.0001) (0.1,-0.0017) (0,-0.0034)}{(0,0) (0.89,0.012)}{Neutrophil\_TIMER}{0.055}{3.64e-01}
\panel{853.5}{colDC}{dc}{s4}{(0.12,0.0048) (0.45,0.0087) (0.9,0.0193) (1.25,0.029) (1.57,0.038) (1.57,0.012) (1.25,0.01) (0.9,0.0075) (0.45,0.0027) (0.12,-0.0048)}{(0.12,0) (1.57,0.025)}{Myeloid dendritic cell\_TIMER}{0.141}{1.96e-02}

% ---------------- Row E : SSTR5
\def\rowtop{-968bp}\def\rowh{160bp}\def\striph{17bp}
\pgfplotsset{currow/.style={rowE}}
\node[font=\fontsize{19}{19}\selectfont\bfseries] at (8bp,-932bp) {E};
\node[rotate=90, font=\fontsize{11.5}{11.5}\selectfont, text=black!88] at (6.5bp,-1048bp) {SSTR5 Expression Level (log2 TPM)};
\coad{35.5}{}
\panel{52}{colB}{b}{s5b}{(0,1.092) (0.09,0.92) (0.3,0.874) (0.55,0.899) (0.787,0.93) (0.787,-0.97) (0.55,-0.361) (0.3,0.274) (0.09,0.74) (0,0.788)}{(0,0.94) (0.787,-0.02)}{B cell\_TIMER}{-0.104}{8.58e-02}
\panel{212.3}{colC8}{c8}{s5}{(0,0.084) (0.17,0.15) (0.45,0.587) (0.7,1.058) (0.93,1.495) (0.93,-0.055) (0.7,-0.036) (0.45,-0.019) (0.17,-0.09) (0,-0.334)}{(0,-0.125) (0.93,0.72)}{T cell CD8+\_TIMER}{0.11}{6.73e-02}
\panel{372.6}{colC4}{c4}{s5}{(0,0.156) (0.1,0.143) (0.4,0.49) (0.75,1.008) (1.07,1.49) (1.07,-0.83) (0.75,-0.558) (0.4,-0.268) (0.1,-0.117) (0,-0.196)}{(0,-0.02) (1.07,0.33)}{T cell CD4+\_TIMER}{0.013}{8.27e-01}
\panel{532.9}{colMac}{mac}{s5}{(0,0.149) (0.05,0.164) (0.25,0.486) (0.5,0.995) (0.71,1.43) (0.71,-0.45) (0.5,-0.299) (0.25,-0.128) (0.05,-0.076) (0,-0.129)}{(0,0.01) (0.71,0.49)}{Macrophage\_TIMER}{0.094}{1.22e-01}
\panel{693.2}{colNeu}{neu}{s5}{(0,0.191) (0.1,0.215) (0.35,0.615) (0.6,1.103) (0.89,1.68) (0.89,-0.32) (0.6,-0.179) (0.35,-0.067) (0.1,-0.045) (0,-0.171)}{(0,0.01) (0.89,0.68)}{Neutrophil\_TIMER}{0.128}{3.32e-02}
\panel{853.5}{colDC}{dc}{s5}{(0.12,0.271) (0.45,0.227) (0.9,0.517) (1.25,0.799) (1.57,1.06) (1.57,-0.28) (1.25,-0.169) (0.9,-0.051) (0.45,0.027) (0.12,-0.171)}{(0.12,0.05) (1.57,0.39)}{Myeloid dendritic cell\_TIMER}{0.048}{4.27e-01}
\end{tikzpicture}
\end{document}
